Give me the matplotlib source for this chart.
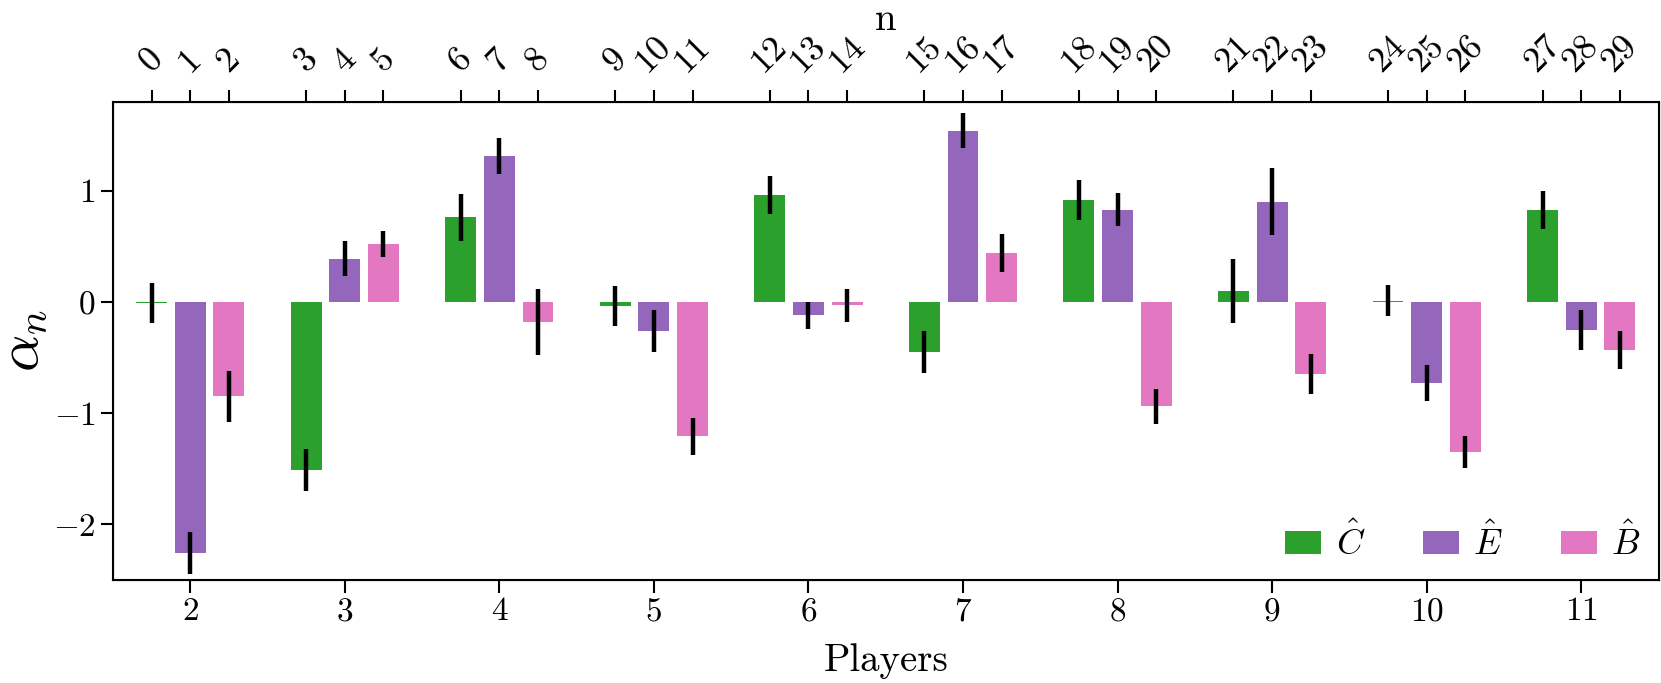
import numpy as np
import matplotlib.pyplot as plt

plt.rcParams['font.family'] = 'serif'
plt.rcParams['font.serif'] = ['cmr10']
plt.rcParams['mathtext.fontset'] = 'cm'
plt.rcParams['axes.formatter.use_mathtext'] = True

players = [2, 3, 4, 5, 6, 7, 8, 9, 10, 11]

# C hat
c_vals = [-0.01, -1.51, 0.76, -0.04, 0.96, -0.45, 0.92, 0.10, 0.01, 0.83]
c_err = [0.18, 0.19, 0.21, 0.18, 0.17, 0.19, 0.18, 0.29, 0.14, 0.17]
# E hat
e_vals = [-2.26, 0.39, 1.31, -0.26, -0.12, 1.54, 0.83, 0.90, -0.73, -0.25]
e_err = [0.19, 0.16, 0.16, 0.19, 0.12, 0.16, 0.15, 0.30, 0.16, 0.18]
# B hat
b_vals = [-0.85, 0.52, -0.18, -1.21, -0.03, 0.44, -0.94, -0.65, -1.35, -0.43]
b_err = [0.23, 0.12, 0.30, 0.17, 0.15, 0.17, 0.16, 0.18, 0.14, 0.17]

series = [
    (c_vals, c_err, '#2ca02c', r'$\hat{C}$'),
    (e_vals, e_err, '#9467bd', r'$\hat{E}$'),
    (b_vals, b_err, '#e377c2', r'$\hat{B}$'),
]
offsets = [-0.25, 0.0, 0.25]

fig = plt.figure(figsize=(16.61, 6.83), dpi=100)
ax = fig.add_axes([0.068, 0.151, 0.9305, 0.700])

x = np.array(players, dtype=float)
n_pos = []
for (vals, err, col, lab), off in zip(series, offsets):
    ax.bar(x + off, vals, 0.2, yerr=err, color=col, label=lab,
           error_kw=dict(ecolor='black', elinewidth=3.2, capsize=0))
    n_pos.extend(x + off)
n_pos = sorted(n_pos)
n_labels = [str(i) for i in range(len(n_pos))]

ax.set_xlim(1.5, 11.5)
ax.set_ylim(-2.5, 1.8)
ax.set_xticks(players)
ax.set_yticks([-2, -1, 0, 1])
ax.tick_params(labelsize=24, width=1.5, length=9)
ax.set_xlabel('Players', fontsize=28, labelpad=12)
ax.set_ylabel(r'$\alpha_n$', fontsize=42, labelpad=2)
for s in ax.spines.values():
    s.set_linewidth(1.5)

ax2 = ax.twiny()
ax2.set_xlim(ax.get_xlim())
ax2.set_xticks(n_pos)
ax2.set_xticklabels(n_labels, rotation=45)
ax2.tick_params(labelsize=26, width=1.5, length=9, pad=8)
ax2.set_xlabel('n', fontsize=28, labelpad=0)

ax.legend(loc='lower right', ncol=3, frameon=False, fontsize=26,
          columnspacing=1.6, handlelength=1.0, handleheight=0.6,
          handletextpad=0.4, borderaxespad=0.1)

fig.savefig('out.png', dpi=100)
